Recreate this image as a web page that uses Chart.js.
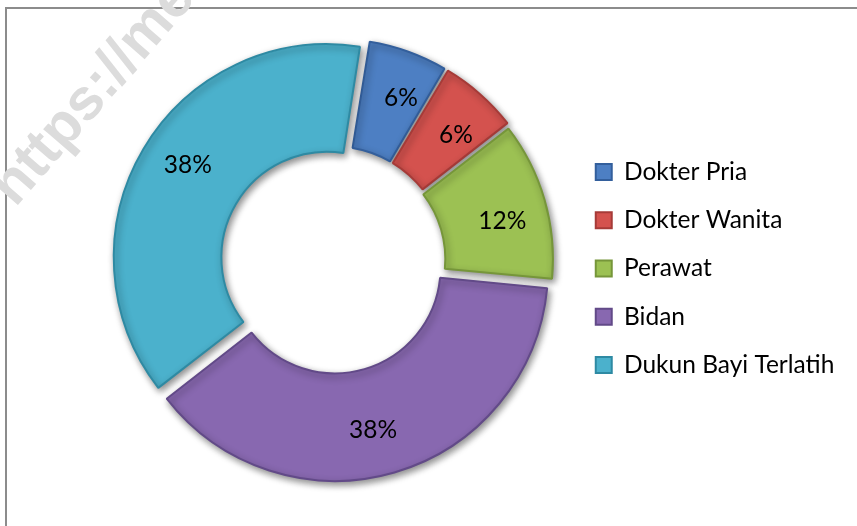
<!DOCTYPE html>
<html>
<head>
<meta charset="utf-8">
<script src="https://cdn.jsdelivr.net/npm/chart.js@4.4.0/dist/chart.umd.min.js"></script>
<style>
  html, body { margin: 0; padding: 0; background: #fff; overflow: hidden; }
  #wrap { position: relative; width: 857px; height: 526px; }
  #frame {
    position: absolute; left: 5px; top: 7px; width: 900px; height: 600px;
    border-top: 2px solid #8c8c8c; border-left: 2px solid #8c8c8c;
  }
  #mark {
    position: absolute; left: 22px; top: 156px; height: 58px;
    font: bold 58px 'Liberation Sans', sans-serif; line-height: 58px;
    color: #dcdcdc; white-space: nowrap;
    transform: rotate(-49deg); transform-origin: 0 100%;
  }
  canvas { position: absolute; left: 0; top: 0; }
</style>
</head>
<body>
<div id="wrap">
  <div id="frame"></div>
  <div id="mark">https://media</div>
  <canvas id="myChart" width="857" height="526"></canvas>
</div>
<script>
// chart values
const categories = ['Dokter Pria', 'Dokter Wanita', 'Perawat', 'Bidan', 'Dukun Bayi Terlatih'];
const percentages = [6, 6, 12, 38, 38];
const fillColors = ['#4d7fc3', '#d4524e', '#9cc153', '#8868b0', '#4bb1cc'];
const rimColors = ['#335f9c', '#a63b38', '#76963a', '#624a88', '#2e8aa3'];

const fontFamily = 'Lato, "Open Sans", sans-serif';
const fontSize = 24.5;
const legendPad = 23.75;
const boxSize = 16;
const sliceOffset = 28; // chart.js draws a quarter of this (more on thin slices)

// widest legend text decides how far the legend reaches to the right
const measure = document.createElement('canvas').getContext('2d');
measure.font = fontSize + 'px ' + fontFamily;
const widest = Math.max(...categories.map(c => measure.measureText(c).width));
const legendLeft = 582;
const legendWidth = legendPad + boxSize + fontSize / 2 + widest;

// soft drop shadow under the ring segments
const shadowPlugin = {
    id: 'ringShadow',
    beforeDatasetDraw(chart) {
        const ctx = chart.ctx;
        ctx.save();
        ctx.shadowColor = 'rgba(0,0,0,0.45)';
        ctx.shadowBlur = 7;
        ctx.shadowOffsetX = 2;
        ctx.shadowOffsetY = 3;
    },
    afterDatasetDraw(chart) {
        chart.ctx.restore();
    }
};

// percentage text in the middle of each segment
const labelPlugin = {
    id: 'sliceLabels',
    afterDatasetsDraw(chart) {
        const ctx = chart.ctx;
        const meta = chart.getDatasetMeta(0);
        ctx.save();
        ctx.font = fontSize + 'px ' + fontFamily;
        ctx.fillStyle = '#000';
        ctx.textAlign = 'center';
        ctx.textBaseline = 'middle';
        meta.data.forEach((arc, i) => {
            const p = arc.getProps(['x', 'y', 'startAngle', 'endAngle', 'innerRadius', 'outerRadius', 'circumference']);
            const mid = (p.startAngle + p.endAngle) / 2 + 0.05;
            const base = (arc.options.offset || 0) / 4;
            const shift = base * (2 - Math.sin(Math.min(Math.PI, p.circumference)));
            const r = p.innerRadius + (p.outerRadius - p.innerRadius) * 0.57 + shift;
            ctx.fillText(percentages[i] + '%', p.x + Math.cos(mid) * r, p.y + Math.sin(mid) * r);
        });
        ctx.restore();
    }
};

const ctx = document.getElementById('myChart').getContext('2d');
const myChart = new Chart(ctx, {
    type: 'doughnut',
    data: {
        labels: categories,
        datasets: [{
            data: percentages,
            backgroundColor: fillColors,
            borderColor: rimColors,
            borderWidth: 2,
            offset: sliceOffset
        }]
    },
    options: {
        responsive: false,
        animation: false,
        events: [],
        devicePixelRatio: 1,
        rotation: 9,
        cutout: '49%',
        layout: {
            padding: { left: 94, right: 857 - legendLeft - legendWidth, top: 35, bottom: 39 }
        },
        plugins: {
            tooltip: { enabled: false },
            legend: {
                position: 'right',
                align: 'center',
                title: { display: true, text: ' ', font: { size: 10 }, padding: { top: 0, bottom: 3 } },
                labels: {
                    boxWidth: boxSize,
                    boxHeight: boxSize,
                    padding: legendPad,
                    color: '#000',
                    font: { family: fontFamily, size: fontSize }
                }
            }
        }
    },
    plugins: [shadowPlugin, labelPlugin]
});
</script>
</body>
</html>
